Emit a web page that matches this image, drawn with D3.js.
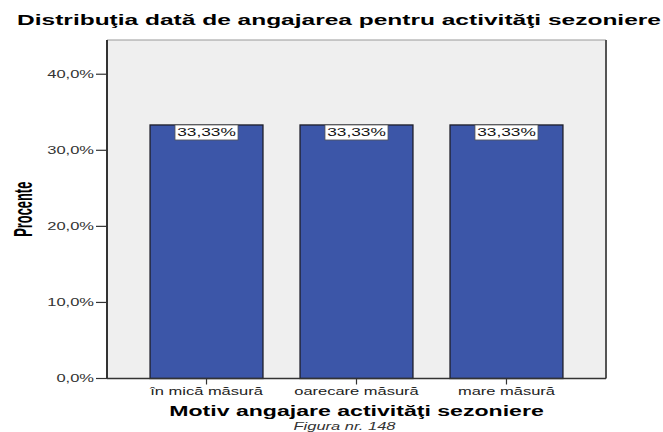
<!DOCTYPE html>
<html>
<head>
<meta charset="utf-8">
<script src="https://cdn.jsdelivr.net/npm/d3@7"></script>
<style>
  html, body { margin: 0; padding: 0; background: #fff; }
  svg { display: block; font-family: "Liberation Sans", Arial, sans-serif; }
</style>
</head>
<body>
<svg id="chart" width="663" height="432"></svg>
<script>
// Data
const categories = ["în mică măsură", "oarecare măsură", "mare măsură"];
const percents = [33.33, 33.33, 33.33];
const yTicks = [0, 10, 20, 30, 40];
const yTickLabels = ["0,0%", "10,0%", "20,0%", "30,0%", "40,0%"];
const valueLabels = ["33,33%", "33,33%", "33,33%"];

const title = "Distribuţia dată de angajarea pentru activităţi sezoniere";
const xTitle = "Motiv angajare activităţi sezoniere";
const yTitle = "Procente";
const caption = "Figura nr. 148";

// Layout
const W = 663, H = 432;
const plot = { left: 107, right: 606, top: 40, bottom: 378.5 };
const SX = 1.65; // horizontal stretch of the wide SPSS-style lettering

const svg = d3.select("#chart");

const x = d3.scaleBand()
  .domain(categories)
  .range([plot.left, plot.right])
  .paddingInner(0.247)
  .paddingOuter(0.287);

const y = d3.scaleLinear()
  .domain([0, 44.5])
  .range([plot.bottom, plot.top]);

// Stretched text helper
function wideText(parent, px, py, str, opts) {
  const g = parent.append("g")
    .attr("transform", `translate(${px},${py}) scale(${opts.sx || SX},1)`);
  const t = g.append("text")
    .attr("x", 0).attr("y", 0)
    .attr("text-anchor", opts.anchor || "middle")
    .attr("font-size", opts.size || 10)
    .attr("font-weight", opts.weight || "normal")
    .attr("font-style", opts.style || "normal")
    .attr("fill", opts.fill || "#222")
    .text(str);
  if (opts.dy) t.attr("dy", opts.dy);
  return t;
}

// Plot background
svg.append("rect")
  .attr("x", plot.left).attr("y", plot.top)
  .attr("width", plot.right - plot.left)
  .attr("height", plot.bottom - plot.top)
  .attr("fill", "#efefef");

// Frame: light top, darker right
svg.append("line")
  .attr("x1", plot.left).attr("x2", plot.right)
  .attr("y1", plot.top).attr("y2", plot.top)
  .attr("stroke", "#9a9a9a").attr("stroke-width", 1.2);
svg.append("line")
  .attr("x1", plot.right).attr("x2", plot.right)
  .attr("y1", plot.top).attr("y2", plot.bottom)
  .attr("stroke", "#555").attr("stroke-width", 2);

// Bars
const bars = svg.append("g");
categories.forEach((c, i) => {
  bars.append("rect")
    .attr("x", x(c))
    .attr("y", y(percents[i]))
    .attr("width", x.bandwidth())
    .attr("height", y(0) - y(percents[i]))
    .attr("fill", "#3c56a8")
    .attr("stroke", "#1e1e2a")
    .attr("stroke-width", 1.3);
});

// Value labels
const labelW = 63, labelH = 15;
categories.forEach((c, i) => {
  const cx = x(c) + x.bandwidth() / 2;
  const top = y(percents[i]);
  svg.append("rect")
    .attr("x", cx - labelW / 2).attr("y", top)
    .attr("width", labelW).attr("height", labelH)
    .attr("fill", "#fff")
    .attr("stroke", "#555").attr("stroke-width", 0.8);
  wideText(svg, cx, top + 11.5, valueLabels[i], { size: 10.5, fill: "#111" });
});

// Y axis
const yAxis = svg.append("g");
yAxis.append("line")
  .attr("x1", plot.left).attr("x2", plot.left)
  .attr("y1", plot.top).attr("y2", plot.bottom)
  .attr("stroke", "#333").attr("stroke-width", 2);
yTicks.forEach((v, i) => {
  yAxis.append("line")
    .attr("x1", 96).attr("x2", plot.left)
    .attr("y1", y(v)).attr("y2", y(v))
    .attr("stroke", "#333").attr("stroke-width", 1.2);
  wideText(yAxis, 94, y(v) + 3.5, yTickLabels[i], { anchor: "end", size: 10, fill: "#333" });
});

// X axis
const xAxis = svg.append("g");
xAxis.append("line")
  .attr("x1", plot.left).attr("x2", plot.right)
  .attr("y1", plot.bottom).attr("y2", plot.bottom)
  .attr("stroke", "#333").attr("stroke-width", 1.3);
categories.forEach(c => {
  const cx = x(c) + x.bandwidth() / 2;
  xAxis.append("line")
    .attr("x1", cx).attr("x2", cx)
    .attr("y1", plot.bottom).attr("y2", plot.bottom + 6)
    .attr("stroke", "#333").attr("stroke-width", 1.2);
  wideText(xAxis, cx, 394.5, c, { size: 10, fill: "#222" });
});

// Titles
wideText(svg, 339, 25, title, { size: 14.5, weight: "bold", fill: "#000", sx: 1.69 });
wideText(svg, 356.5, 416, xTitle, { size: 14, weight: "bold", fill: "#000" });
wideText(svg, 344.5, 430, caption, { size: 10, style: "italic", fill: "#333" });

// Vertical axis title: condensed bold, widened like the rest of the lettering
svg.append("text")
  .attr("transform", `translate(31.5,209.2) scale(${SX},1) rotate(-90)`)
  .attr("text-anchor", "middle")
  .attr("font-family", "'Liberation Sans Narrow', 'Arial Narrow', 'Liberation Sans', sans-serif")
  .attr("font-size", 15.7)
  .attr("font-weight", "bold")
  .attr("fill", "#000")
  .attr("textLength", 55)
  .attr("lengthAdjust", "spacingAndGlyphs")
  .text(yTitle);
</script>
</body>
</html>
